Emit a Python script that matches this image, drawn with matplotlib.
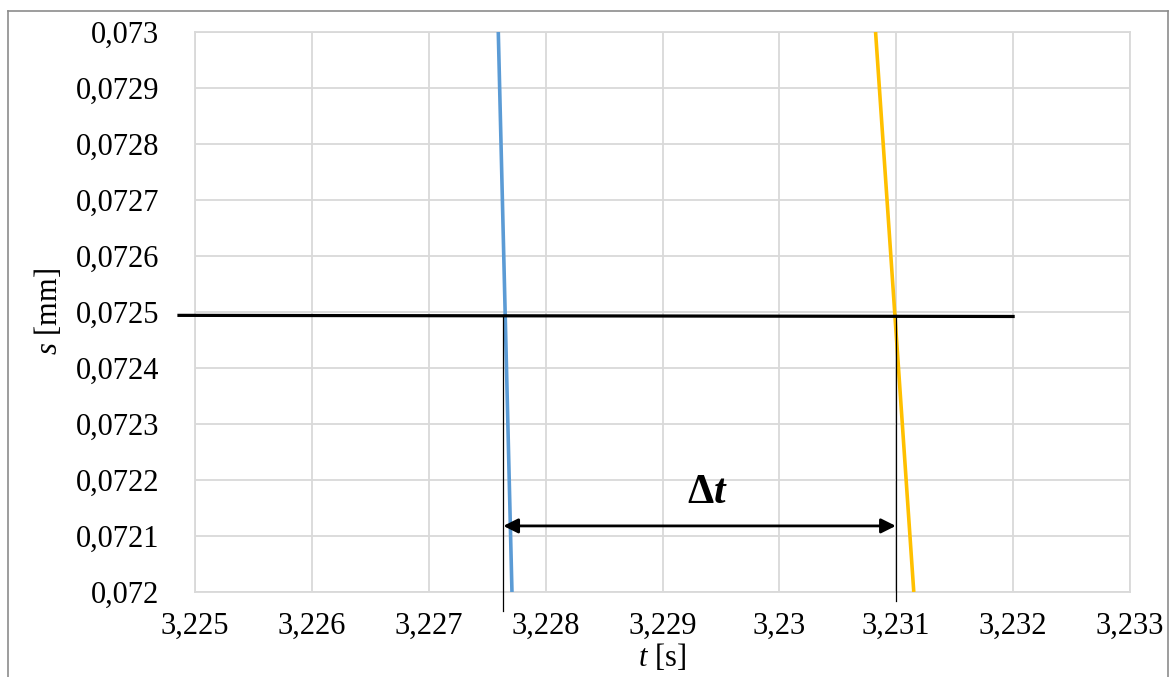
import numpy as np
import matplotlib.pyplot as plt
from matplotlib.ticker import FuncFormatter

plt.rcParams['font.family'] = ['Liberation Serif', 'DejaVu Serif']
plt.rcParams['mathtext.fontset'] = 'custom'
plt.rcParams['mathtext.rm'] = 'Liberation Serif'
plt.rcParams['mathtext.it'] = 'Liberation Serif:italic'
plt.rcParams['mathtext.bf'] = 'Liberation Serif:bold'
plt.rcParams['mathtext.bfit'] = 'Liberation Serif:bold:italic'

# signal 1 (blue) and signal 2 (orange), near the crossing level
t_blue = [3.227595, 3.227712]
s_blue = [0.0730, 0.0720]
t_orange = [3.230823, 3.231150]
s_orange = [0.0730, 0.0720]

# threshold line
t_level = [3.224863, 3.232]
s_level = [0.072494, 0.072492]

# crossing times
t_cross = [3.227638, 3.230996]
s_cross_low = [0.071966, 0.071984]
s_arrow = 0.072118

xticks = [3.225, 3.226, 3.227, 3.228, 3.229, 3.230, 3.231, 3.232, 3.233]
yticks = [0.0720, 0.0721, 0.0722, 0.0723, 0.0724, 0.0725, 0.0726, 0.0727, 0.0728, 0.0729, 0.0730]

fig = plt.figure(figsize=(11.71, 6.77), dpi=100)
ax = fig.add_axes([195/1171, 1 - 592/677, (1130-195)/1171, (592-32)/677])

ax.plot(t_blue, s_blue, color='#5B9BD5', linewidth=2.6, solid_capstyle='butt', zorder=3)
ax.plot(t_orange, s_orange, color='#FFC000', linewidth=2.6, solid_capstyle='butt', zorder=3)
ax.plot(t_level, s_level, color='black', linewidth=2.3, clip_on=False, zorder=4)

for tc, sl in zip(t_cross, s_cross_low):
    ax.plot([tc, tc], [s_level[0], sl], color='black', linewidth=0.9, clip_on=False, zorder=4)

ax.annotate('', xy=(t_cross[0], s_arrow), xytext=(t_cross[1], s_arrow),
            arrowprops=dict(arrowstyle='<|-|>', color='black', lw=2.0,
                            mutation_scale=22, shrinkA=0, shrinkB=0), zorder=5)
ax.text(3.229380, 0.072177, r'$\mathbf{\Delta}\mathbfit{t}$',
        ha='center', va='center', fontsize=30)

ax.set_xlim(3.225, 3.233)
ax.set_ylim(0.0720, 0.0730)
ax.set_xticks(xticks)
ax.set_yticks(yticks)

def fmt(v, pos):
    s = ('%.4f' % v).rstrip('0').rstrip('.')
    return s.replace('.', ',')

def fmt_y(v, pos):
    s = ('%.5f' % v).rstrip('0').rstrip('.')
    return s.replace('.', ',')

ax.xaxis.set_major_formatter(FuncFormatter(fmt))
ax.yaxis.set_major_formatter(FuncFormatter(fmt_y))
ax.tick_params(axis='both', length=0, labelsize=22)
ax.tick_params(axis='x', pad=14)
ax.tick_params(axis='y', pad=26)
ax.grid(True, color='#d9d9d9', linewidth=1.3)
ax.set_axisbelow(True)
for sp in ax.spines.values():
    sp.set_color('#d9d9d9')
    sp.set_linewidth(1.3)

ax.set_xlabel('$t$ [s]', fontsize=22, labelpad=1)
ax.set_ylabel('$s$ [mm]', fontsize=22, labelpad=8)

# outer chart frame
fig.add_artist(plt.Line2D([8/1171, 1168/1171], [1 - 11/677, 1 - 11/677], color='#8c8c8c', lw=1.2))
fig.add_artist(plt.Line2D([8/1171, 8/1171], [0, 1 - 11/677], color='#8c8c8c', lw=1.2))
fig.add_artist(plt.Line2D([1168/1171, 1168/1171], [0, 1 - 11/677], color='#8c8c8c', lw=1.2))

fig.savefig('out.png', dpi=100)
